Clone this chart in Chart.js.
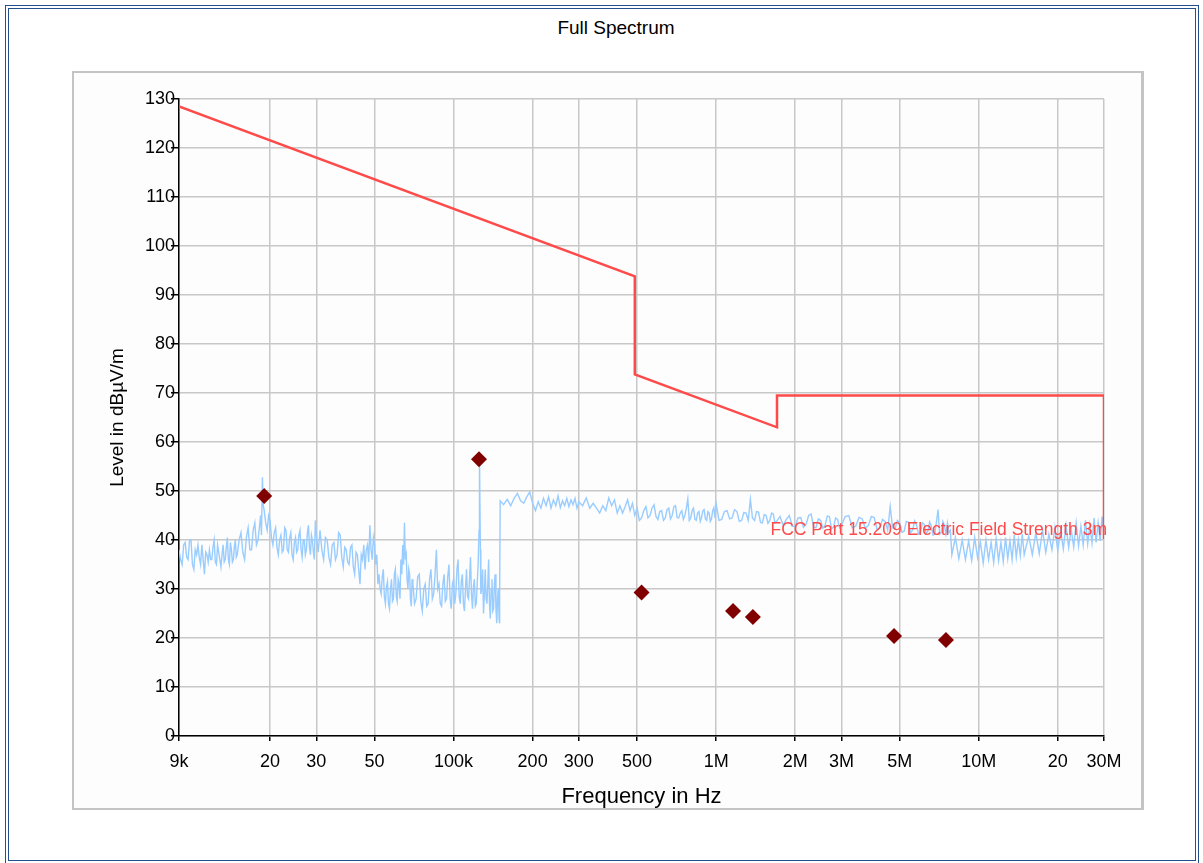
<!DOCTYPE html>
<html>
<head>
<meta charset="utf-8">
<title>Full Spectrum</title>
<script src="https://cdn.jsdelivr.net/npm/chart.js@4.4.1/dist/chart.umd.min.js"></script>
<style>
  html, body { margin: 0; padding: 0; background: #fff; }
  body { width: 1203px; height: 863px; position: relative; overflow: hidden; font-family: Arial, "Liberation Sans", sans-serif; }
  #frame { position: absolute; left: 5px; top: 5px; width: 1186px; height: 851px; border: 4px double #24508e; }
  #panel { position: absolute; left: 72px; top: 71px; width: 1067px; height: 735px; border: 2px solid #c4c4c4; border-right-width: 3px; background: #fdfdfd; }
  #title { position: absolute; left: 0; width: 1232px; top: 17px; text-align: center; font-size: 19px; color: #000; }
  #chart { position: absolute; left: 0; top: 0; }
</style>
</head>
<body>
<div id="frame"></div>
<div id="panel"></div>
<div id="title">Full Spectrum</div>
<canvas id="chart" width="1203" height="863"></canvas>
<script>
// axis ticks
const freqTicks = [9e3, 2e4, 3e4, 5e4, 1e5, 2e5, 3e5, 5e5, 1e6, 2e6, 3e6, 5e6, 1e7, 2e7, 3e7];
const freqTickLabels = ['9k', '20', '30', '50', '100k', '200', '300', '500', '1M', '2M', '3M', '5M', '10M', '20', '30M'];

// FCC 15.209 limit line (Hz, dBuV/m)
const limitFreq = [9e3, 4.9e5, 4.9e5, 1.705e6, 1.705e6, 3e7, 3e7];
const limitLevel = [128.5, 93.8, 73.8, 63.0, 69.5, 69.5, 40.2];
const limitName = 'FCC Part 15.209 Electric Field Strength 3m';

// final measurement points (Hz, dBuV/m)
const peakFreq = [19.0e3, 125e3, 520e3, 1.16e6, 1.38e6, 4.76e6, 7.5e6];
const peakLevel = [49.0, 56.5, 29.3, 25.5, 24.3, 20.4, 19.6];

// pre-scan trace, 9k - 150k  [kHz, dBuV/m]
const spectrumLow = [
  [9.000,38],[9.125,36],[9.25,35],[9.375,39],[9.5,39.5],[9.625,36.5],[9.75,36],[9.875,40],[10.0,40],[10.125,35],
  [10.25,34],[10.375,38],[10.5,37],[10.625,39],[10.75,36.5],[10.875,35],[11.0,39],[11.125,36],[11.25,33],[11.375,37.5],
  [11.5,37],[11.625,35.5],[11.75,38],[11.875,36],[12.0,36],[12.125,38.5],[12.25,40],[12.375,35.5],[12.5,35],[12.625,39],
  [12.75,37.5],[12.875,36],[13.0,34.5],[13.125,37],[13.25,39],[13.375,35.5],[13.5,36],[13.625,38.5],[13.75,40.5],[13.875,36],
  [14.0,35],[14.125,39.5],[14.25,38],[14.375,35.5],[14.5,36],[14.625,38.5],[14.75,40],[14.875,36.5],
  [15.0,37],[15.25,40],[15.5,41.5],[15.75,37.5],[16.0,36],[16.25,40.5],[16.5,42.5],[16.75,38],[17.0,38],[17.25,42],
  [17.5,43.5],[17.75,39],[18.0,40],[18.25,43],[18.4,45],[18.55,41],[18.7,52.8],[18.85,47],[19.0,46],[19.25,43.5],
  [19.5,42],[19.75,45],[20.0,44],[20.25,40.5],[20.5,39],[20.75,41.5],
  [21.0,42.5],[21.25,38.5],[21.5,37],[21.75,40],[22.0,41],[22.25,37.5],[22.5,38],[22.75,42.5],[23.0,42],[23.25,38],
  [23.5,37.5],[23.75,40.5],[24.0,41.5],[24.25,37],[24.5,36],[24.75,39.5],[25.0,40.5],[25.25,37.5],[25.5,38],[25.75,41],
  [26.0,42],[26.25,38],[26.5,36.5],[26.75,40],[27.0,40],[27.25,37],[27.5,38],[27.75,41.5],[28.0,43],[28.25,38.5],
  [28.5,37],[28.75,41],[29.0,40],[29.25,37.5],[29.5,36],[29.75,44],
  [30.0,41],[30.5,37.5],[31.0,42],[31.5,38],[32.0,36],[32.5,40.5],[33.0,40],[33.5,36.5],[34.0,35],[34.5,39],
  [35.0,39.5],[35.5,36],[36.0,37],[36.5,41.5],[37.0,41],[37.5,36.5],[38.0,34.5],[38.5,38.5],[39.0,38],[39.5,35.5],
  [40.0,35],[40.5,38.5],[41.0,39],[41.5,34.5],[42.0,33],[42.5,37.5],[43.0,37],[43.5,34],[44.0,31],[44.5,37],
  [45.0,36],[45.5,39],[46.0,34],[46.5,38],[47.0,39],[47.5,35.5],[48.0,43],[48.5,38],[49.0,36],[49.5,40.5],
  [50.0,39],[50.5,35],[51.0,37],[51.5,31],[52.0,33],[52.5,30],[53.0,29],[53.5,32.5],[54.0,34],[54.5,28.5],
  [55.0,27],[55.5,30.5],[56.0,31.5],[56.5,27],[57.0,26],[57.5,30],[58.0,32],[58.5,27.5],[59.0,28],[59.5,33],
  [60.0,34],[60.5,28.5],[61.0,27.5],[61.5,32],[62.0,31],[62.5,28],[63.0,36],[63.5,33],[64.0,39],[64.5,35],
  [65.0,43.5],[65.5,36],[66.0,37],[66.5,32],[67.0,30],[67.5,34],[68.0,33],[68.5,28],[69.0,26.5],[69.5,32],
  [70,31],[71,27],[72,28],[73,32.5],[74,33],[75,27.5],[76,25.5],[77,30],[78,31],[79,26.5],
  [80,27],[81,32],[82,34],[83,28],[84,29],[85,33],[86,38],[87,30],[88,31],[89,27],
  [90,26.5],[91,31],[92,33],[93,27.5],[94,28],[95,32.5],[96,35],[97,28],[98,26],[99,31],
  [100,32],[101,27],[102,29],[103,34],[104,36],[105,28.5],[106,27],[107,31.5],[108,33],[109,27],
  [110,25.5],[111,30],[112,34],[113,28.5],[114,28],[115,32],[116,36.5],[117,29],[118,26],[119,30.5],
  [120,32],[121,26.5],[122,27],[123,31],[124,35],[125,42],[125.5,57],[126.5,38],[127,29],[128,30],
  [129,34],[130,25],[131,29],[132,34],[133,28],[134,27],[135,31],[136,36],[137,27],[138,24],
  [139,30],[140,32],[141,25.5],[142,26],[143,31],[144,33],[145,26],[146,23],[147,28],[148,30],
  [149,24],[149.5,23],[150,29]
];

// pre-scan trace, 150k - 30M  [kHz, dBuV/m]
const spectrumHigh = [
  [150.5,48],[155,47.2],[160,48.3],[165,47],[170,48.5],[175,49.5],[180,48],[185,47.5],[190,48.8],[195,49.8],
  [200,47.5],[205,46],[210,47.8],[215,46.5],[220,48.5],[225,47],[230,48.8],[235,46.5],[240,48.2],[245,47],
  [250,49],[255,46.6],[260,48],[265,47],[270,48.5],[275,46.8],[280,48.2],[285,47.2],[290,48.5],[295,46.5],
  [300,47.8],[310,47],[320,48.6],[330,46.5],[340,47.5],[350,46.5],[360,45.5],[370,47],[380,46],[390,48.6],
  [400,47],[410,48.2],[420,45.5],[430,47],[440,45.5],[450,46.8],[460,48.2],[470,46],[480,47.5],[490,45],
  [500,46.5],[510,44],[520,44.5],[530,46],[540,46.8],[550,44.5],[560,45],[570,46.5],[580,47.2],[590,44.8],
  [600,44.2],[610,45.8],[620,46],[630,44],[640,44.5],[650,46.2],[660,46.5],[670,44.3],[680,45],[690,46.8],
  [700,47],[710,44.6],[720,44.5],[730,45.5],[740,46],[750,44.2],[760,45],[770,46.5],[780,48.4],[790,44],
  [800,44.5],[810,46],[820,46.5],[830,44.2],[840,44],[850,45.5],[860,45.8],[870,43.8],[880,44.6],[890,46],
  [900,46.2],[910,44.3],[920,44],[930,45.8],[940,45.5],[950,43.8],[960,44.3],[970,46],[980,46.6],[990,44.5],
  [1000,47.4],[1025,44],[1050,44.2],[1075,45.8],[1100,46],[1125,44.3],[1150,44.5],[1175,46.2],[1200,45.8],[1225,43.8],
  [1250,44],[1275,45.6],[1300,45.5],[1325,44],[1350,48.3],[1375,44.5],[1400,44],[1425,45.8],[1450,45.7],[1475,43.6],
  [1500,43.5],[1525,45.2],[1550,45],[1575,43.4],[1600,44],[1625,45.5],[1650,45.3],[1675,43.5],[1700,43.8],
  [1750,44.8],[1800,43],[1850,44.2],[1900,45],[1950,42.8],[2000,42.8],[2050,44.5],[2100,44.6],[2150,42.6],[2200,43.2],
  [2250,45],[2300,45.3],[2350,42.6],[2400,42.5],[2450,44.3],[2500,44],[2550,42.4],[2600,43],[2650,44.9],[2700,44.8],
  [2750,42.3],[2800,42.6],[2850,44.5],[2900,44.2],[2950,42.5],[3000,43],
  [3100,44.8],[3200,45],[3300,42.5],[3400,42.8],[3500,44.6],[3600,44.3],[3700,42.4],[3800,43],[3900,44.8],[4000,44.6],
  [4100,42.2],[4200,42.4],[4300,44.2],[4400,43.8],[4500,42],[4600,46.8],[4700,42.5],[4800,42.2],[4900,44],[5000,43.5],
  [5100,41.6],[5200,41.8],[5300,43.8],[5400,43.6],[5500,41.5],[5600,42],[5700,43.9],[5800,43],[5900,41.2],[6000,41.5],
  [6100,43.5],[6200,43.2],[6300,41.3],[6400,41.8],[6500,43.7],[6600,42.8],[6700,41],[6800,41.2],[6900,43.6],[7000,46.2],
  [7100,41.2],[7200,41.5],[7300,43.8],[7400,43],[7500,41.2],[7600,43.5],[7700,41.5],[7800,42],
  [7900,37],[8150,40.5],[8400,36.2],[8650,40],[8900,36],[9150,39.8],[9400,35.8],[9650,40.5],[9900,36.4],[10150,39.6],
  [10400,35.3],[10650,40],[10900,36],[11150,39.5],[11400,35.4],[11650,40.2],[11900,35.8],[12150,39.5],[12400,35.6],[12650,40.5],
  [12900,36.2],[13150,39.8],[13400,36],[13650,41],[13900,36.5],[14150,40],[14400,36.8],[14650,41.2],[14900,37],
  [15500,40.8],[16000,37],[16500,41.5],[17000,37.2],[17500,42],[18000,37.5],[18500,41.2],[19000,38],[19500,42.5],[20000,37.8],
  [20500,42],[21000,38.2],[21500,43],[22000,38.5],[22500,42.2],[23000,38.6],[23500,43.5],[24000,38.8],[24500,42.8],[25000,39],
  [25500,44],[26000,39.2],[26500,43],[27000,39.4],[27500,44.5],[28000,39.5],[28500,43.5],[29000,39.8],[29500,44.8],[30000,41]
];

let spectrum_data = [];
for (let i = 0; i < spectrumLow.length; i++) {
  spectrum_data.push({ x: spectrumLow[i][0] * 1000, y: spectrumLow[i][1] });
}
for (let i = 0; i < spectrumHigh.length; i++) {
  spectrum_data.push({ x: spectrumHigh[i][0] * 1000, y: spectrumHigh[i][1] });
}

let limit_data = [];
for (let i = 0; i < limitFreq.length; i++) {
  limit_data.push({ x: limitFreq[i], y: limitLevel[i] });
}

let peak_data = [];
for (let i = 0; i < peakFreq.length; i++) {
  peak_data.push({ x: peakFreq[i], y: peakLevel[i] });
}

const limitColor = '#ff4a4a';

// name of the limit line, written at its last point
const limitLabel = {
  id: 'limitLabel',
  afterDatasetsDraw(chart) {
    const ctx = chart.ctx;
    const x = chart.scales.x.getPixelForValue(limitFreq[limitFreq.length - 1]);
    const y = chart.scales.y.getPixelForValue(limitLevel[limitLevel.length - 1]);
    ctx.save();
    ctx.font = '17.5px Arial, "Liberation Sans", sans-serif';
    ctx.fillStyle = limitColor;
    ctx.textAlign = 'right';
    ctx.textBaseline = 'alphabetic';
    ctx.fillText(limitName, x + 3, y - 4);
    ctx.restore();
  }
};

const ctx = document.getElementById('chart');

new Chart(ctx, {
  type: 'line',
  data: {
    datasets: [{
      label: 'Final',
      data: peak_data,
      showLine: false,
      pointStyle: 'rectRot',
      pointRadius: 8,
      pointBackgroundColor: '#800000',
      pointBorderColor: '#800000',
      pointBorderWidth: 0
    }, {
      label: limitName,
      data: limit_data,
      borderColor: limitColor,
      borderWidth: 2.5,
      pointRadius: 0,
      tension: 0
    }, {
      label: 'Spectrum',
      data: spectrum_data,
      borderColor: '#99ccff',
      borderWidth: 1.4,
      pointRadius: 0,
      tension: 0
    }]
  },
  options: {
    responsive: false,
    animation: false,
    events: [],
    layout: { padding: { left: 102, top: 99, right: 99, bottom: 49 } },
    plugins: {
      legend: { display: false },
      tooltip: { enabled: false },
      title: { display: false }
    },
    scales: {
      x: {
        type: 'logarithmic',
        min: 9e3,
        max: 3e7,
        afterBuildTicks: (scale) => {
          scale.ticks = freqTicks.map(v => ({ value: v }));
        },
        afterFit: (scale) => { scale.height = 78; },
        ticks: {
          autoSkip: false,
          maxRotation: 0,
          padding: 10,
          color: '#000',
          font: { family: 'Arial, "Liberation Sans", sans-serif', size: 18 },
          callback: (value) => freqTickLabels[freqTicks.indexOf(value)]
        },
        grid: { color: '#c8c8c8', lineWidth: 1.5, tickColor: '#000', tickLength: 5, tickWidth: 1.5 },
        border: { color: '#000', width: 1.5 },
        title: {
          display: true,
          text: 'Frequency in Hz',
          color: '#000',
          font: { family: 'Arial, "Liberation Sans", sans-serif', size: 22 }
        }
      },
      y: {
        min: 0,
        max: 130,
        afterFit: (scale) => { scale.width = 77; },
        ticks: {
          stepSize: 5,
          padding: -4,
          color: '#000',
          font: { family: 'Arial, "Liberation Sans", sans-serif', size: 18 },
          callback: (value) => (value % 10 === 0 ? String(value) : '')
        },
        grid: { color: '#c8c8c8', lineWidth: 1.5, tickColor: '#000', tickLength: 8, tickWidth: 1.5 },
        border: { color: '#000', width: 1.5 },
        title: {
          display: true,
          text: 'Level in dBµV/m',
          color: '#000',
          font: { family: 'Arial, "Liberation Sans", sans-serif', size: 19 }
        }
      }
    }
  },
  plugins: [limitLabel]
});
</script>
</body>
</html>
